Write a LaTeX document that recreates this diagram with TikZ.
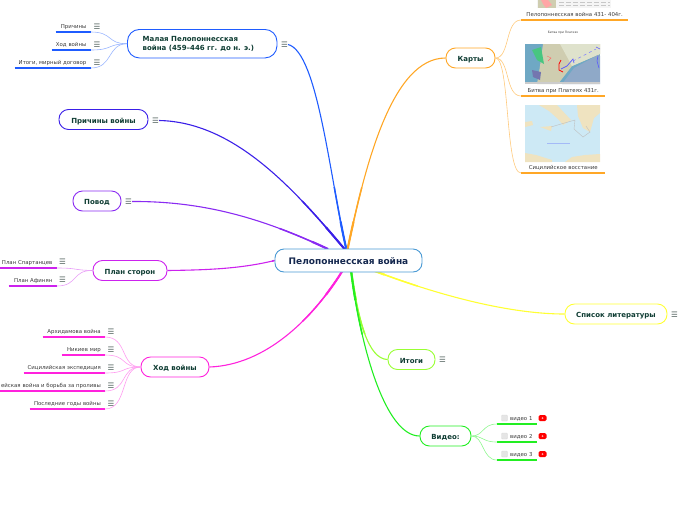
\documentclass[tikz,border=0pt]{standalone}
\usepackage{fontspec}
\usetikzlibrary{backgrounds}
\setmainfont{DejaVu Sans}
\definecolor{rootblue}{HTML}{4A9AD4}
\definecolor{roottext}{HTML}{14274E}
\definecolor{topictext}{HTML}{0F3D33}
\definecolor{leaftext}{HTML}{3A3A3A}
\definecolor{menugray}{HTML}{50605C}
\definecolor{cblue}{HTML}{1F5CFF}
\definecolor{cindigo}{HTML}{3A1FE8}
\definecolor{cviolet}{HTML}{8A2BF2}
\definecolor{cpurple}{HTML}{CC22EE}
\definecolor{cpink}{HTML}{FF22DD}
\definecolor{corange}{HTML}{FFA726}
\definecolor{cyellow}{HTML}{FFFF33}
\definecolor{clime}{HTML}{99FF33}
\definecolor{cgreen}{HTML}{22EE22}
\definecolor{mapsea}{HTML}{6FA8C4}
\definecolor{mapland}{HTML}{CFCDB0}
\definecolor{mappale}{HTML}{DFE2CC}
\definecolor{mapbay}{HTML}{8FA9C8}
\definecolor{seapale}{HTML}{CDE9F5}
\definecolor{sandpale}{HTML}{EFE3C0}
\tikzset{
    topic/.style={draw, fill=white, line width=0.9pt, rounded corners=9.5pt, text=topictext, font=\fontsize{7}{9}\selectfont\bfseries, minimum height=20pt, inner sep=0pt},
    oneline/.style={text height=7pt, text depth=0pt},
    leaf/.style={text=leaftext, font=\fontsize{5.4}{7}\selectfont, minimum height=10pt, inner ysep=0pt, inner xsep=0pt, anchor=south east, align=right},
    menu/.style={text=menugray, font=\fontsize{7.5}{8}\selectfont, inner sep=0pt},
    branch/.style={line width=0.6pt},
    under/.style={line width=1.1pt},
}
\newcommand{\mainlinks}{
    \draw[cblue] (mmalaya.east) .. controls (318,52) and (330,180) .. (hub);
    \draw[cindigo] (mcauses.east) .. controls (235,122) and (295,190) .. (hub);
    \draw[cviolet] (mpovod.east) .. controls (210,201) and (270,222) .. (hubv);
    \draw[cpurple] (plan.east) .. controls (205,270) and (240,269) .. (root.west);
    \draw[cpink] (course.east) .. controls (265,365) and (312,320) .. (hubl);
    \draw[corange] (hub) .. controls (365,165) and (392,58) .. (maps.west);
    \draw[cyellow] (huby) .. controls (440,296) and (510,314) .. (books.west);
    \draw[clime] (hubr) .. controls (358,320) and (368,359) .. (results.west);
    \draw[cgreen] (hubr) .. controls (360,345) and (385,436) .. (video.west);
}
\begin{document}
\begin{tikzpicture}[x=1pt,y=-1pt]
    \useasboundingbox (0,0) rectangle (696,520);
    \coordinate (hub) at (347,252);
    \coordinate (hubl) at (343,270);
    \coordinate (hubr) at (351,270);
    \coordinate (huby) at (372,270);
    \coordinate (hubv) at (328,249);

    % main topics
    \node[draw=rootblue, fill=white, line width=0.9pt, rounded corners=9pt, text=roottext, font=\fontsize{9}{10}\selectfont\bfseries, minimum width=147pt, minimum height=23pt, inner sep=0pt, text height=8pt, text depth=0pt] (root) at (348.5,260.5) {Пелопоннесская война};
    \node[topic, draw=cblue, minimum width=149.5pt, minimum height=28.5pt, rounded corners=12pt] (malaya) at (202.2,43.7) {\raisebox{-1pt}{\parbox{119pt}{\baselineskip=9.5pt Малая Пелопоннесская\\война (459–446 гг. до н. э.)}}};
    \node[topic, oneline, draw=cindigo, minimum width=89pt] (causes) at (103.5,119.5) {Причины войны};
    \node[topic, oneline, draw=cviolet, minimum width=48pt] (povod) at (97,201) {Повод};
    \node[topic, oneline, draw=cpurple, minimum width=74pt] (plan) at (130,270.5) {План сторон};
    \node[topic, oneline, draw=cpink, minimum width=68pt] (course) at (175,367) {Ход войны};
    \node[topic, oneline, draw=corange, minimum width=49pt] (maps) at (470.5,58) {Карты};
    \node[topic, oneline, draw=cyellow, minimum width=102pt] (books) at (616,314) {Список литературы};
    \node[topic, oneline, draw=clime, minimum width=47pt] (results) at (411.5,359.5) {Итоги};
    \node[topic, oneline, draw=cgreen, minimum width=51pt] (video) at (445.5,436) {Видео:};

    \node[menu] (mmalaya) at (284.5,44.5) {☰};
    \node[menu] (mcauses) at (155.5,120.5) {☰};
    \node[menu] (mpovod) at (128.5,201.5) {☰};
    \node[menu] (mbooks) at (674.5,314.5) {☰};
    \node[menu] (mresults) at (442.5,360) {☰};

    % links get thicker near the root
    \begin{scope}[on background layer]
        \begin{scope}[line width=1.1pt]
            \mainlinks
        \end{scope}
        \foreach \r/\w in {75/1.5,40/2.1}{
            \begin{scope}[line width=\w pt]
                \clip (347,261) circle (\r pt);
                \mainlinks
            \end{scope}
        }
    \end{scope}

    % leaves of the first topic
    \foreach \i/\w/\yy/\txt in {1/35/32/Причины, 2/39/50/Ход войны, 3/76/68/{Итоги, мирный договор}}{
        \node[leaf, text width=\w pt] (a\i) at (91,\yy) {\txt\kern4.5pt};
        \node[menu] (ma\i) at (97,\yy-5.5) {☰};
        \draw[under, cblue] (a\i.south west) -- (a\i.south east);
        \draw[branch, cblue!45] (a\i.south east) .. controls (113,\yy) and (107,44) .. (malaya.west);
    }
    % leaves of the plan
    \foreach \i/\w/\yy/\txt in {1/57/268/План Спартанцев, 2/48/286/План Афинян}{
        \node[leaf, text width=\w pt] (b\i) at (57,\yy) {\txt\kern4.5pt};
        \node[menu] (mb\i) at (62.5,\yy-6.5) {☰};
        \draw[under, cpurple] (b\i.south west) -- (b\i.south east);
        \draw[branch, cpurple!45] (b\i.south east) .. controls (78,\yy) and (72,270) .. (plan.west);
    }
    % leaves of the course
    \foreach \i/\w/\yy/\txt in {1/62/337/Архидамова война, 2/43/355/Никиев мир, 3/81/373/Сицилийская экспедиция, 4/105/391/ейская война и борьба за проливы, 5/75/409/Последние годы войны}{
        \node[leaf, text width=\w pt] (c\i) at (105,\yy) {\txt\kern4pt};
        \node[menu] (mc\i) at (111,\yy-5.5) {☰};
        \draw[under, cpink] (c\i.south west) -- (c\i.south east);
        \draw[branch, cpink!45] (c\i.south east) .. controls (128,\yy) and (120,367) .. (course.west);
    }
    % first map
    \fill[black!4] (537,0) rectangle (611,8);
    \fill[mapland] (538,0) rectangle (556,8);
    \fill[red!35!white] (541,0) -- (548,0) -- (552,5) -- (546,8) -- (543,4) -- cycle;
    \draw[black!22, line width=0.6pt, dash pattern=on 5pt off 2pt] (559,2) -- (610,2) (559,5) -- (610,5);
    % second map
    \fill[mapsea] (525,44) rectangle (600,84);
    \fill[mapland] (543,44) -- (600,44) -- (600,54) -- (572,66) -- (558,84) -- (537,84) -- (540,66) -- cycle;
    \fill[mappale] (560,44) -- (600,44) -- (600,54) -- (572,66) -- cycle;
    \fill[green!35!mapsea] (532,50) -- (541,47) -- (544,64) -- (537,60) -- cycle;
    \fill[violet!30!mapsea] (532,70) -- (541,72) -- (540,80) -- (533,77) -- cycle;
    \fill[mapbay] (562,84) -- (574,68) -- (598,55) -- (600,56) -- (600,84) -- cycle;
    \fill[black!20] (525,82) rectangle (600,84);
    \draw[red, line width=0.8pt] (561,60) -- (559,64) -- (559,70) -- (563,72);
    \draw[red!60!white, line width=0.4pt] (547,56) -- (551,58) -- (548,61);
    \draw[blue!65!white, line width=0.7pt] (561,69) -- (567,66) -- (573,59) -- (574,63);
    \draw[blue!50!white, line width=0.5pt, dashed] (573,61) -- (596,49);
    \draw[blue!65!white, line width=0.6pt] (596,47) -- (600,49) (598,56) -- (597,61) -- (599,68);
    % third map
    \fill[seapale] (525,105) rectangle (600,162);
    \fill[sandpale] (539,105) -- (557,105) -- (571,120) -- (563,125) -- (558,119) -- (549,111) -- cycle;
    \fill[sandpale] (577,105) -- (600,105) -- (600,113) -- (594,118) -- (590,132) -- (583,128) -- (578,116) -- cycle;
    \fill[sandpale] (540,127) -- (552,126) -- (551,131) -- cycle;
    \fill[sandpale] (525,153) -- (536,155) -- (552,160) -- (552,162) -- (525,162) -- cycle;
    \fill[sandpale] (565,162) -- (572,157) -- (585,155) -- (600,154) -- (600,162) -- cycle;
    \fill[sandpale] (525,122) -- (532,121) -- (533,125) -- (525,127) -- cycle;
    \draw[black!25, line width=0.4pt] (551,127) -- (561,124) -- (575,120) -- (574,129) -- (583,137) -- (590,132) -- (586,126);
    \draw[blue!20!seapale, line width=1pt] (547,143) -- (570,143);
    % leaves of the maps
    \node[leaf, text width=107pt, align=center, anchor=south west] (d1) at (521,20) {Пелопоннесская война 431- 404г.};
    \node[leaf, text width=84pt, align=center, anchor=south west] (d2) at (521,96) {Битва при Платеях 431г.};
    \node[leaf, text width=84pt, align=center, anchor=south west] (d3) at (521,173) {Сицилийское восстание};
    \node[text=leaftext, font=\fontsize{3}{4}\selectfont, inner sep=0pt] (d2t) at (563,33) {Битва при Платеях};
    \foreach \i/\yy in {1/20,2/96,3/173}{
        \draw[under, corange] (d\i.south west) -- (d\i.south east);
        \draw[branch, corange!60] (d\i.south west) .. controls (505,\yy) and (510,58) .. (maps.east);
    }
    % leaves of the video
    \foreach \i/\yy in {1/424,2/442,3/460}{
        \node[leaf, text width=40pt, align=left, anchor=south west] (e\i) at (497,\yy) {\hspace*{13pt}видео \i};
        \node[draw=black!15, fill=black!10, rounded corners=1pt, minimum size=6pt, inner sep=0pt] (box\i) at (504.5,\yy-6) {};
        \node[fill=red, rounded corners=1.5pt, minimum width=8pt, minimum height=6pt, inner sep=0pt] (play\i) at (542.5,\yy-6) {};
        \fill[red!35!white] (play\i.center) circle (1pt);
        \draw[under, cgreen] (e\i.south west) -- (e\i.south east);
        \draw[branch, cgreen!50] (e\i.south west) .. controls (482,\yy) and (484,436) .. (video.east);
    }
\end{tikzpicture}
\end{document}
